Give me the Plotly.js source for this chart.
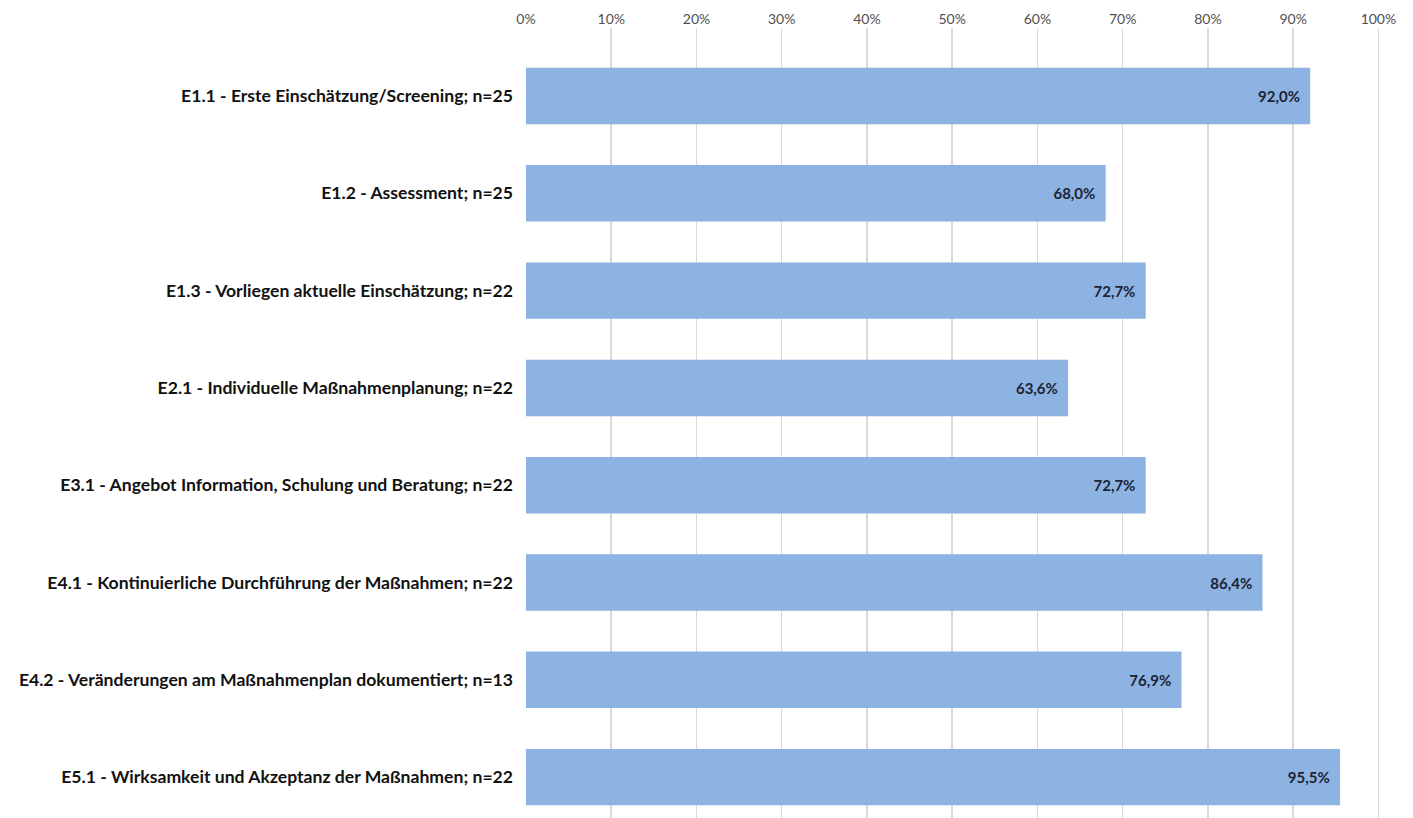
<!DOCTYPE html>
<html><head><meta charset="utf-8">
<script src="https://cdn.plot.ly/plotly-3.0.1.min.js"></script>
<style>html,body{margin:0;padding:0;background:#fff}#chart{width:1413px;height:818px}</style>
</head><body><div id="chart"></div>
<script>
const categories = [
  "E1.1 - Erste Einschätzung/Screening; n=25",
  "E1.2 - Assessment; n=25",
  "E1.3 - Vorliegen aktuelle Einschätzung; n=22",
  "E2.1 - Individuelle Maßnahmenplanung; n=22",
  "E3.1 - Angebot Information, Schulung und Beratung; n=22",
  "E4.1 - Kontinuierliche Durchführung der Maßnahmen; n=22",
  "E4.2 - Veränderungen am Maßnahmenplan dokumentiert; n=13",
  "E5.1 - Wirksamkeit und Akzeptanz der Maßnahmen; n=22"
];
const values = [0.92, 0.68, 0.727, 0.636, 0.727, 0.864, 0.769, 0.955];
const tickVals = [0,0.1,0.2,0.3,0.4,0.5,0.6,0.7,0.8,0.9,1.0];

const trace = {
  type: 'bar', orientation: 'h',
  x: values, y: categories,
  marker: {color: '#8db3e2', line: {width: 0}},
  texttemplate: '%{x:.1%}\u00a0\u00a0',
  textposition: 'inside', insidetextanchor: 'end',
  textfont: {family: 'Lato, sans-serif', size: 15, color: '#1c2333', weight: 'bold'},
  hoverinfo: 'none', width: 0.58
};
const layout = {
  width: 1413, height: 818,
  margin: {l: 526, r: 9, t: 28, b: 0},
  paper_bgcolor: '#fff', plot_bgcolor: '#fff',
  separators: ',.',
  showlegend: false,
  font: {family: 'Lato, sans-serif'},
  xaxis: {
    side: 'top', range: [0, 1.03], tickvals: tickVals, tickformat: '.0%',
    showgrid: true, gridcolor: '#d9d9d9', gridwidth: 1.5, zeroline: false,
    showline: false, ticks: '',
    tickfont: {family: 'Lato, sans-serif', size: 14, color: '#505050'}
  },
  yaxis: {
    type: 'category', range: [7.42, -0.699], showgrid: false, zeroline: false,
    showline: false, ticks: '', ticklabelstandoff: 12,
    tickfont: {family: 'Lato, sans-serif', size: 17.6, color: '#111', weight: 'bold'}
  }
};
Plotly.newPlot('chart', [trace], layout, {displayModeBar: false, staticPlot: true});
</script></body></html>
